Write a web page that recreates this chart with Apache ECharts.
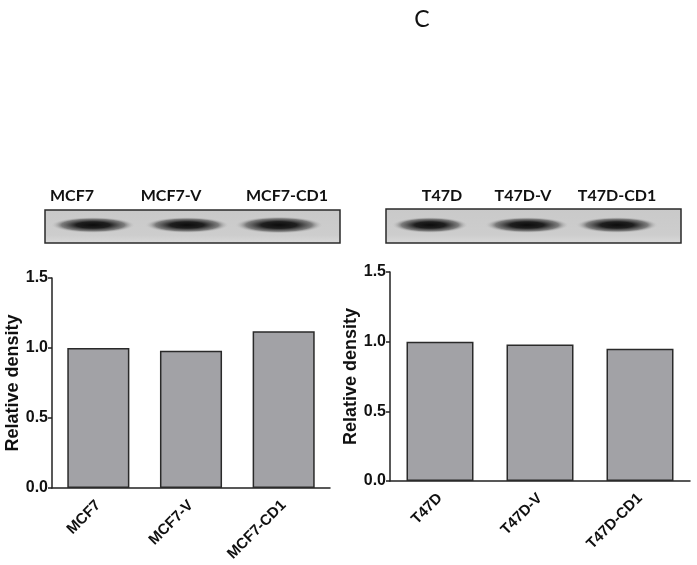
<!DOCTYPE html>
<html>
<head>
<meta charset="utf-8">
<script src="https://cdn.jsdelivr.net/npm/echarts@6/dist/echarts.min.js"></script>
<style>html,body{margin:0;padding:0;background:#fff;}#chart{width:697px;height:565px;}</style>
</head>
<body>
<div id="chart"></div>
<script>
const panelLabel = 'C';
const yAxisName = 'Relative density';
const mcfCategories = ['MCF7', 'MCF7-V', 'MCF7-CD1'];
const mcfValues = [1.0, 0.98, 1.12];
const t47Categories = ['T47D', 'T47D-V', 'T47D-CD1'];
const t47Values = [1.0, 0.98, 0.95];
const yMin = 0, yMax = 1.5, yStep = 0.5;

const chart = echarts.init(document.getElementById('chart'));
const axisFont = 'Liberation Sans, Arial, sans-serif';
const blotFont = 'Lato, Open Sans, sans-serif';

function band(cx, cy, rx, ry) {
  return {
    type: 'circle',
    x: cx, y: cy, scaleX: rx / ry, scaleY: 1,
    shape: { cx: 0, cy: 0, r: ry },
    style: {
      fill: new echarts.graphic.RadialGradient(0.5, 0.5, 0.5, [
        { offset: 0, color: 'rgba(12,12,12,1)' },
        { offset: 0.4, color: 'rgba(22,22,22,0.95)' },
        { offset: 0.75, color: 'rgba(70,70,70,0.6)' },
        { offset: 1, color: 'rgba(200,200,200,0)' }
      ])
    },
    z: 5
  };
}

function blotBox(x, y, w, h) {
  return {
    type: 'rect',
    shape: { x: x, y: y, width: w, height: h },
    style: {
      fill: new echarts.graphic.LinearGradient(0, 0, 0, 1, [
        { offset: 0, color: '#c9c9c9' },
        { offset: 0.75, color: '#cdcdcd' },
        { offset: 1, color: '#dadada' }
      ]),
      stroke: '#2a2a2a', lineWidth: 1.5
    },
    z: 4
  };
}

function blotLabel(text, cx) {
  return {
    type: 'text', x: cx, y: 196,
    style: { text: text, fill: '#111', font: 'bold 16px ' + blotFont, align: 'center', verticalAlign: 'middle' },
    z: 5
  };
}

const graphics = [
  { type: 'text', x: 422, y: 20, style: { text: panelLabel, fill: '#111', font: '23px ' + blotFont, align: 'center', verticalAlign: 'middle' } },
  blotBox(45, 210, 295, 33),
  blotBox(386, 209, 295, 34),
  band(93, 225, 42, 8), band(187, 225, 42, 8), band(279, 225, 44, 8.5),
  band(430, 225, 38, 8), band(527, 225, 42, 8), band(617, 225, 41, 8),
  blotLabel(mcfCategories[0], 72), blotLabel(mcfCategories[1], 171), blotLabel(mcfCategories[2], 287),
  blotLabel(t47Categories[0], 442), blotLabel(t47Categories[1], 523), blotLabel(t47Categories[2], 617)
];

function xAx(idx, cats) {
  return {
    type: 'category', gridIndex: idx, data: cats,
    axisLine: { lineStyle: { color: '#222', width: 1.5 } },
    axisTick: { alignWithLabel: true, length: 5, lineStyle: { color: '#222', width: 1.5 } },
    axisLabel: { rotate: 45, margin: 15, color: '#111', fontWeight: 'bold', fontSize: 15, fontFamily: axisFont }
  };
}
function yAx(idx) {
  return {
    type: 'value', gridIndex: idx, min: yMin, max: yMax, interval: yStep,
    name: yAxisName, nameLocation: 'middle', nameGap: 30,
    nameTextStyle: { color: '#111', fontWeight: 'bold', fontSize: 18, fontFamily: axisFont },
    axisLine: { show: true, lineStyle: { color: '#222', width: 1.5 } },
    axisTick: { show: true, length: 4, lineStyle: { color: '#222', width: 1.5 } },
    axisLabel: { margin: 4, color: '#111', fontWeight: 'bold', fontSize: 16, fontFamily: axisFont, formatter: v => v.toFixed(1) },
    splitLine: { show: false }
  };
}
function barSeries(idx, vals) {
  return {
    type: 'bar', xAxisIndex: idx, yAxisIndex: idx, data: vals, barWidth: '67%',
    itemStyle: { color: '#a2a2a6', borderColor: '#2a2a2a', borderWidth: 1.5 },
    silent: true
  };
}

chart.setOption({
  animation: false,
  graphic: graphics,
  grid: [
    { left: 52, top: 278, width: 278, height: 210 },
    { left: 390, top: 272, width: 300, height: 209 }
  ],
  xAxis: [xAx(0, mcfCategories), xAx(1, t47Categories)],
  yAxis: [yAx(0), yAx(1)],
  series: [barSeries(0, mcfValues), barSeries(1, t47Values)]
});
</script>
</body>
</html>
